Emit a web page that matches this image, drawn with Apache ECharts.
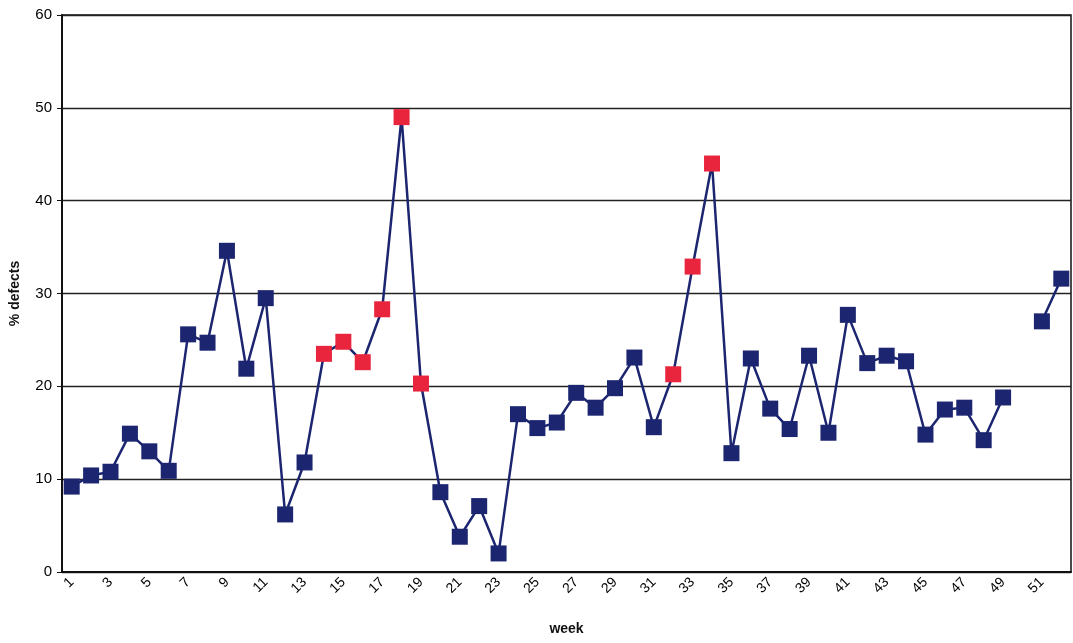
<!DOCTYPE html>
<html lang="en">

<head>
    <meta charset="UTF-8">
    <title>% defects per week</title>
    <style>
        * {
            margin: 0;
            padding: 0;
        }

        #main {
            width: 1073px;
            height: 643px;
            background-color: #fff;
        }
    </style>
</head>
<script src="https://cdn.jsdelivr.net/npm/echarts@6/dist/echarts.min.js"></script>

<body>
    <div id="main"></div>
    <script>
        // weeks 1..52
        var weeks = [];
        for (var w = 1; w <= 52; w++) weeks.push(String(w));

        // % defects, week 50 has no value
        var defects = [
            9.2, 10.4, 10.8, 14.9, 13.0, 10.9, 25.6, 24.7, 34.6, 21.9,
            29.5, 6.2, 11.8, 23.5, 24.8, 22.6, 28.3, 49.0, 20.3, 8.6,
            3.8, 7.1, 2.0, 17.0, 15.5, 16.1, 19.3, 17.7, 19.8, 23.1,
            15.6, 21.3, 32.9, 44.0, 12.8, 23.0, 17.6, 15.4, 23.3, 15.0,
            27.7, 22.5, 23.3, 22.7, 14.8, 17.5, 17.7, 14.2, 18.8, null,
            27.0, 31.6
        ];

        // weeks flagged in red
        var flaggedWeeks = [14, 15, 16, 17, 18, 19, 32, 33, 34];

        var yTicks = { min: 0, max: 60, interval: 10 };

        var navy = '#1c2570';
        var red = '#e8253d';

        var seriesData = defects.map(function (v, i) {
            var item = { value: v };
            if (flaggedWeeks.indexOf(i + 1) >= 0) {
                item.itemStyle = { color: red };
            }
            return item;
        });

        var myChart = echarts.init(document.getElementById('main'));
        var option = {
            backgroundColor: '#fff',
            animation: false,
            grid: {
                left: 62,
                right: 2,
                top: 15,
                bottom: 71,
                show: true,
                borderColor: '#111',
                borderWidth: 1.5
            },
            xAxis: {
                type: 'category',
                data: weeks,
                boundaryGap: true,
                name: 'week',
                nameLocation: 'middle',
                nameGap: 50,
                nameTextStyle: {
                    fontFamily: 'Liberation Sans',
                    fontWeight: 'bold',
                    fontSize: 14,
                    color: '#111'
                },
                axisLine: { lineStyle: { color: '#111', width: 2 } },
                axisTick: { interval: 0, length: 5, lineStyle: { color: '#111' } },
                axisLabel: {
                    interval: 1,
                    rotate: 45,
                    margin: 8,
                    fontFamily: 'Liberation Sans',
                    fontSize: 14,
                    color: '#000'
                },
                splitLine: { show: false }
            },
            yAxis: {
                type: 'value',
                min: yTicks.min,
                max: yTicks.max,
                interval: yTicks.interval,
                name: '% defects',
                nameLocation: 'middle',
                nameGap: 40,
                nameTextStyle: {
                    fontFamily: 'Liberation Sans',
                    fontWeight: 'bold',
                    fontSize: 14,
                    color: '#111'
                },
                axisLine: { show: true, lineStyle: { color: '#111', width: 2 } },
                axisTick: { show: true, length: 5, lineStyle: { color: '#111' } },
                axisLabel: {
                    fontFamily: 'Liberation Sans',
                    fontSize: 15,
                    color: '#000',
                    margin: 10
                },
                splitLine: { lineStyle: { color: '#222', width: 1.3 } }
            },
            series: [
                {
                    type: 'line',
                    data: seriesData,
                    connectNulls: false,
                    showAllSymbol: true,
                    symbol: 'rect',
                    symbolSize: 16,
                    lineStyle: { color: navy, width: 2.5 },
                    itemStyle: { color: navy, borderWidth: 0 },
                    z: 3
                }
            ]
        };
        myChart.setOption(option);
    </script>
</body>

</html>
